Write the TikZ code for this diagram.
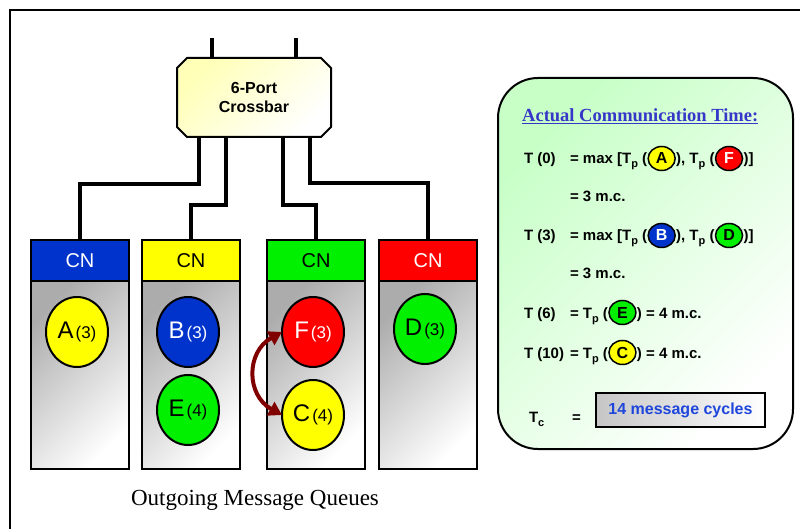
\documentclass[tikz,border=0pt]{standalone}
\usepackage{fontspec}
\setmainfont{Liberation Serif}
\setsansfont{Liberation Sans}
\usepackage{xcolor}
\usepackage{tikz}
\usetikzlibrary{shapes.geometric,shapes.misc,arrows.meta,positioning}
\definecolor{cnblue}{HTML}{0033CC}
\definecolor{cnyellow}{HTML}{FFFF00}
\definecolor{cngreen}{HTML}{00F000}
\definecolor{cnred}{HTML}{FF0000}
\definecolor{xchgred}{HTML}{800000}
\definecolor{titleblue}{HTML}{3636C8}
\definecolor{cycleblue}{HTML}{1E46DC}
\newcommand\fsz[1]{\fontsize{#1}{#1}\selectfont}
\newcommand\lowsub[1]{\raisebox{-4pt}{\fsz{11}#1}}
\newcommand\qmsg[2]{#1\hspace{2pt}{\fsz{17}(#2)}}

\begin{document}
\begin{tikzpicture}[x=1pt,y=-1pt,
  frame/.style={line width=2pt},
  wire/.style={line width=4pt},
  xbar/.style={chamfered rectangle,chamfered rectangle xsep=5pt,chamfered rectangle ysep=5pt,draw,line width=2pt,top color=yellow!28,bottom color=white,shading angle=45,minimum width=154pt,minimum height=79pt,outer sep=0pt,align=center,font=\sffamily\bfseries\fontsize{16}{19}\selectfont},
  cnhead/.style={rectangle,draw,line width=2pt,fill=#1,minimum width=98pt,minimum height=41pt,inner sep=0pt,outer sep=0pt,font=\sffamily\fsz{20}},
  cnbody/.style={rectangle,draw,line width=2pt,top color=gray!65,bottom color=white,shading angle=45,minimum width=98pt,minimum height=188pt,outer sep=0pt},
  msg/.style={ellipse,draw,line width=2pt,fill=#1,minimum width=62pt,minimum height=70pt,inner sep=0pt,outer sep=0pt,font=\sffamily\fsz{24}},
  xchg/.style={draw=xchgred,line width=4pt,{Triangle[length=13pt,width=15pt]}-{Triangle[length=13pt,width=15pt]}},
  panel/.style={rectangle,draw,line width=2pt,rounded corners=40pt,top color=green!22,bottom color=white,shading angle=45,minimum width=295pt,minimum height=371pt},
  txt/.style={font=\sffamily\bfseries\fsz{15},inner sep=1pt,outer sep=0pt},
  mini/.style={ellipse,draw,line width=1.5pt,fill=#1,minimum width=27pt,minimum height=24pt,inner sep=0pt,outer sep=0pt,font=\sffamily\bfseries\fsz{16}},
  cycles/.style={rectangle,draw,line width=2pt,left color=gray!45,right color=white,minimum width=169pt,minimum height=34pt,font=\sffamily\bfseries\fsz{16},text=cycleblue}
]
\useasboundingbox (0,0) rectangle (800,529);
\draw[frame] (10,529) -- (10,10) -- (800,10);

% crossbar and its ports
\node[xbar] (xbar) at (254,97.5) {6-Port\\Crossbar};
\coordinate (in1) at (212,38);
\coordinate (in2) at (296,38);
\draw[wire] (in1) -- (in1 |- xbar.north);
\draw[wire] (in2) -- (in2 |- xbar.north);

% compute nodes
\node[cnhead=cnblue,text=white] (h1) at (80,260.5) {CN};
\node[cnhead=cnyellow,right=13pt of h1] (h2) {CN};
\node[cnhead=cngreen,right=27pt of h2] (h3) {CN};
\node[cnhead=cnred,text=white,right=14pt of h3] (h4) {CN};
\foreach \i in {1,...,4}
  \node[cnbody,below=0pt of h\i] (b\i) {};

\draw[wire] ([xshift=-55pt]xbar.south) -- ++(0,47) -| (h1.north);
\draw[wire] ([xshift=-28pt]xbar.south) -- ++(0,68) -| (h2.north);
\draw[wire] ([xshift=29pt]xbar.south) -- ++(0,68) -| (h3.north);
\draw[wire] ([xshift=56pt]xbar.south) -- ++(0,46) -| (h4.north);

% message queues
\node[msg=cnyellow] (A) at (77,332) {\qmsg{A}{3}};
\node[msg=cnblue,text=white] (B) at (188,332) {\qmsg{B}{3}};
\node[msg=cngreen] (E) at (188,410) {\qmsg{E}{4}};
\node[msg=cnred,text=white] (F) at (313,332) {\qmsg{F}{3}};
\node[msg=cnyellow] (C) at (313,415) {\qmsg{C}{4}};
\node[msg=cngreen] (D) at (425,329) {\qmsg{D}{3}};
\draw[xchg] (F.west) .. controls +(-36,20) and +(-36,-20) .. (C.west);

\node[font=\rmfamily\fsz{23},anchor=base,inner sep=0pt] (cap) at (255,505) {Outgoing Message Queues};

% timing panel
\node[panel] (pnl) at (645.5,263.5) {};
\node[font=\rmfamily\bfseries\fsz{18.5},text=titleblue,anchor=base west,inner sep=0pt] (ttl) at (522,122) {\underline{Actual Communication Time:}};

\node[txt,anchor=base west] (t0) at (523,164) {T (0)};
\node[txt,anchor=base west] (t0a) at (569,164) {= max [T\lowsub{p} (};
\node[mini=cnyellow,base right=0pt of t0a] (t0A) {A};
\node[txt,base right=0pt of t0A] (t0b) {), T\lowsub{p} (};
\node[mini=cnred,text=white,base right=0pt of t0b] (t0F) {F};
\node[txt,base right=0pt of t0F] (t0c) {)]};
\node[txt,anchor=base west] (t0d) at (569,202) {= 3 m.c.};

\node[txt,anchor=base west] (t3) at (523,241) {T (3)};
\node[txt,anchor=base west] (t3a) at (569,241) {= max [T\lowsub{p} (};
\node[mini=cnblue,text=white,base right=0pt of t3a] (t3B) {B};
\node[txt,base right=0pt of t3B] (t3b) {), T\lowsub{p} (};
\node[mini=cngreen,base right=0pt of t3b] (t3D) {D};
\node[txt,base right=0pt of t3D] (t3c) {)]};
\node[txt,anchor=base west] (t3d) at (569,279) {= 3 m.c.};

\node[txt,anchor=base west] (t6) at (523,318) {T (6)};
\node[txt,anchor=base west] (t6a) at (569,318) {= T\lowsub{p} (};
\node[mini=cngreen,base right=0pt of t6a] (t6E) {E};
\node[txt,base right=0pt of t6E] (t6b) {) = 4 m.c.};

\node[txt,anchor=base west] (t10) at (523,358) {T (10)};
\node[txt,anchor=base west] (t10a) at (569,358) {= T\lowsub{p} (};
\node[mini=cnyellow,base right=0pt of t10a] (t10C) {C};
\node[txt,base right=0pt of t10C] (t10b) {) = 4 m.c.};

\node[txt,anchor=base west] (tc) at (528,422) {T\lowsub{c}};
\node[txt,anchor=base west] (tceq) at (571,422) {=};
\node[cycles] (tcv) at (680.5,410) {14 message cycles};
\end{tikzpicture}
\end{document}
